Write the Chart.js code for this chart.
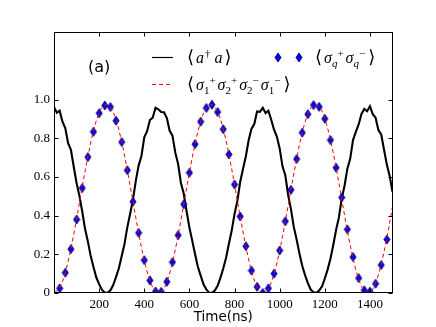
<!DOCTYPE html>
<html>
<head>
<meta charset="utf-8">
<script src="https://cdn.jsdelivr.net/npm/chart.js@4.4.1/dist/chart.umd.min.js"></script>
<style>
  body { margin: 0; background: #fff; }
  canvas { display: block; }
</style>
</head>
<body>
<canvas id="myChart" width="436" height="327"></canvas>
<script>
// dados (a)

// <a+ a> - curva preta (com ruido)
const photonTime = [0, 12.5, 25, 37.5, 50, 62.5, 75, 87.5, 100, 112.5,
  125, 137.5, 150, 162.5, 175, 187.5, 200, 212.5, 225, 237.5,
  250, 262.5, 275, 287.5, 300, 312.5, 325, 337.5, 350, 362.5,
  375, 387.5, 400, 412.5, 425, 437.5, 450, 462.5, 475, 487.5,
  500, 512.5, 525, 537.5, 550, 562.5, 575, 587.5, 600, 612.5,
  625, 637.5, 650, 662.5, 675, 687.5, 700, 712.5, 725, 737.5,
  750, 762.5, 775, 787.5, 800, 812.5, 825, 837.5, 850, 862.5,
  875, 887.5, 900, 912.5, 925, 937.5, 950, 962.5, 975, 987.5,
  1000, 1012.5, 1025, 1037.5, 1050, 1062.5, 1075, 1087.5, 1100, 1112.5,
  1125, 1137.5, 1150, 1162.5, 1175, 1187.5, 1200, 1212.5, 1225, 1237.5,
  1250, 1262.5, 1275, 1287.5, 1300, 1312.5, 1325, 1337.5, 1350, 1362.5,
  1375, 1387.5, 1400, 1412.5, 1425, 1437.5, 1450, 1462.5, 1475, 1487.5,
  1500];
const photonPop = [0.962, 0.933, 0.943, 0.886, 0.853, 0.775, 0.741, 0.653, 0.569, 0.503,
  0.423, 0.332, 0.267, 0.193, 0.135, 0.080, 0.046, 0.016, 0.002, 0.001,
  0.014, 0.041, 0.083, 0.128, 0.191, 0.254, 0.341, 0.410, 0.485, 0.580,
  0.659, 0.709, 0.805, 0.837, 0.895, 0.907, 0.958, 0.950, 0.936, 0.935,
  0.905, 0.839, 0.814, 0.726, 0.667, 0.569, 0.513, 0.423, 0.339, 0.271,
  0.202, 0.136, 0.090, 0.045, 0.019, 0.002, 0.001, 0.013, 0.037, 0.078,
  0.127, 0.182, 0.255, 0.323, 0.409, 0.476, 0.574, 0.641, 0.706, 0.790,
  0.849, 0.874, 0.939, 0.937, 0.958, 0.931, 0.943, 0.896, 0.845, 0.809,
  0.748, 0.655, 0.609, 0.507, 0.434, 0.342, 0.278, 0.205, 0.141, 0.092,
  0.051, 0.018, 0.004, 0.001, 0.013, 0.033, 0.075, 0.121, 0.177, 0.248,
  0.326, 0.391, 0.489, 0.555, 0.643, 0.694, 0.791, 0.833, 0.872, 0.926,
  0.952, 0.940, 0.966, 0.925, 0.907, 0.843, 0.820, 0.741, 0.663, 0.605,
  0.523];

// <s1+ s2+ s2- s1-> - tracejado vermelho
const pairTime = [0, 25, 50, 75, 100, 125, 150, 175, 200, 225,
  250, 275, 300, 325, 350, 375, 400, 425, 450, 475,
  500, 525, 550, 575, 600, 625, 650, 675, 700, 725,
  750, 775, 800, 825, 850, 875, 900, 925, 950, 975,
  1000, 1025, 1050, 1075, 1100, 1125, 1150, 1175, 1200, 1225,
  1250, 1275, 1300, 1325, 1350, 1375, 1400, 1425, 1450, 1475,
  1500];
const pairPop = [0, 0.028, 0.108, 0.231, 0.383, 0.548, 0.705, 0.838, 0.931, 0.973,
  0.960, 0.894, 0.781, 0.635, 0.472, 0.311, 0.170, 0.065, 0.008, 0.006,
  0.058, 0.160, 0.299, 0.459, 0.622, 0.770, 0.886, 0.957, 0.974, 0.936,
  0.847, 0.717, 0.561, 0.396, 0.242, 0.116, 0.032, 0.000, 0.024, 0.100,
  0.220, 0.371, 0.534, 0.693, 0.829, 0.925, 0.972, 0.963, 0.901, 0.791,
  0.648, 0.485, 0.323, 0.180, 0.072, 0.011, 0.004, 0.052, 0.150, 0.286,
  0.445];

// <sq+ sq-> - losangos azuis
const qubitTime = [25, 50, 75, 100, 125, 150, 175, 200, 225,
  250, 275, 300, 325, 350, 375, 400, 425, 450, 475,
  500, 525, 550, 575, 600, 625, 650, 675, 700, 725,
  750, 775, 800, 825, 850, 875, 900, 925, 950, 975,
  1000, 1025, 1050, 1075, 1100, 1125, 1150, 1175, 1200, 1225,
  1250, 1275, 1300, 1325, 1350, 1375, 1400, 1425, 1450, 1475];
const qubitPop = [0.024, 0.105, 0.227, 0.380, 0.543, 0.703, 0.834, 0.930, 0.970,
  0.962, 0.891, 0.781, 0.635, 0.472, 0.311, 0.170, 0.065, 0.008, 0.006,
  0.058, 0.160, 0.299, 0.459, 0.622, 0.770, 0.886, 0.957, 0.974, 0.936,
  0.847, 0.717, 0.561, 0.396, 0.242, 0.116, 0.032, 0.000, 0.024, 0.100,
  0.220, 0.371, 0.534, 0.693, 0.829, 0.925, 0.972, 0.963, 0.901, 0.791,
  0.648, 0.494, 0.329, 0.186, 0.077, 0.014, 0.007, 0.048, 0.145, 0.277];

const xTicks = [200, 400, 600, 800, 1000, 1200, 1400];
const yTicks = [0, 0.2, 0.4, 0.6, 0.8, 1.0];

// losango fino (marcador 'd')
const diamond = document.createElement('canvas');
diamond.width = 8;
diamond.height = 11;
const dctx = diamond.getContext('2d');
dctx.beginPath();
dctx.moveTo(4, 1);
dctx.lineTo(7, 5.5);
dctx.lineTo(4, 10);
dctx.lineTo(1, 5.5);
dctx.closePath();
dctx.fillStyle = '#0000ff';
dctx.fill();
dctx.strokeStyle = '#000060';
dctx.lineWidth = 0.9;
dctx.stroke();

function pts(xs, ys) {
    return xs.map((t, i) => ({ x: t, y: ys[i] }));
}

function drawMath(ctx, x, y, parts) {
    parts.forEach(p => {
        ctx.font = p.f;
        ctx.fillText(p.t, x, y + (p.dy || 0));
        x += ctx.measureText(p.t).width + (p.gap || 0);
    });
}

const fBr = '18px "DejaVu Serif"';
const fIt = 'italic 16px "Liberation Serif"';
const fSm = '11px "Liberation Serif"';
const fSmIt = 'italic 11px "Liberation Serif"';

// moldura e ticks para dentro, estilo matplotlib
const moldura = {
    id: 'moldura',
    afterDatasetsDraw(chart) {
        const { ctx, chartArea: a, scales } = chart;
        const L = Math.round(a.left) + 0.5, R = Math.round(a.right) - 0.5;
        const T = Math.round(a.top) + 0.5, B = Math.round(a.bottom) - 0.5;
        ctx.save();
        ctx.strokeStyle = '#000';
        ctx.lineWidth = 1;
        ctx.strokeRect(L, T, R - L, B - T);
        ctx.beginPath();
        xTicks.forEach(v => {
            const px = Math.round(scales.x.getPixelForValue(v)) + 0.5;
            ctx.moveTo(px, B); ctx.lineTo(px, B - 4);
            ctx.moveTo(px, T); ctx.lineTo(px, T + 4);
        });
        yTicks.forEach(v => {
            const py = Math.round(scales.y.getPixelForValue(v)) + 0.5;
            ctx.moveTo(L, py); ctx.lineTo(L + 4, py);
            ctx.moveTo(R, py); ctx.lineTo(R - 4, py);
        });
        ctx.stroke();
        ctx.restore();
    },
    afterDraw(chart) {
        const ctx = chart.ctx;
        ctx.save();
        ctx.fillStyle = '#000';
        // (a)
        ctx.font = '16px "DejaVu Sans"';
        ctx.textBaseline = 'middle';
        ctx.fillText('(a)', 88, 67.5);
        ctx.textBaseline = 'alphabetic';

        // legenda
        ctx.strokeStyle = '#000';
        ctx.lineWidth = 1.2;
        ctx.beginPath();
        ctx.moveTo(152, 57.5); ctx.lineTo(173, 57.5);
        ctx.stroke();
        ctx.strokeStyle = '#ff0000';
        ctx.lineWidth = 1;
        ctx.setLineDash([4, 3]);
        ctx.beginPath();
        ctx.moveTo(152, 84.5); ctx.lineTo(173, 84.5);
        ctx.stroke();
        ctx.setLineDash([]);
        ctx.drawImage(diamond, 278 - 4, 57.5 - 5.5);
        ctx.drawImage(diamond, 299 - 4, 57.5 - 5.5);

        drawMath(ctx, 187, 63, [
            { t: '⟨', f: fBr, gap: 2 }, { t: 'a', f: fIt, gap: 1 }, { t: '†', f: fSm, dy: -6, gap: 4 },
            { t: 'a', f: fIt, gap: 2 }, { t: '⟩', f: fBr }
        ]);
        drawMath(ctx, 315, 63, [
            { t: '⟨', f: fBr, gap: 2 },
            { t: 'σ', f: fIt }, { t: 'q', f: fSmIt, dy: 4 }, { t: '+', f: fSm, dy: -6, gap: 2 },
            { t: 'σ', f: fIt }, { t: 'q', f: fSmIt, dy: 4 }, { t: '−', f: fSm, dy: -6, gap: 3 },
            { t: '⟩', f: fBr }
        ]);
        drawMath(ctx, 187, 90, [
            { t: '⟨', f: fBr, gap: 2 },
            { t: 'σ', f: fIt }, { t: '1', f: fSm, dy: 4 }, { t: '+', f: fSm, dy: -6, gap: 2 },
            { t: 'σ', f: fIt }, { t: '2', f: fSm, dy: 4 }, { t: '+', f: fSm, dy: -6, gap: 2 },
            { t: 'σ', f: fIt }, { t: '2', f: fSm, dy: 4 }, { t: '−', f: fSm, dy: -6, gap: 2 },
            { t: 'σ', f: fIt }, { t: '1', f: fSm, dy: 4 }, { t: '−', f: fSm, dy: -6, gap: 3 },
            { t: '⟩', f: fBr }
        ]);
        ctx.restore();
    }
};

const ctx1 = document.getElementById('myChart');

new Chart(ctx1, {
    type: 'line',
    data: {
        datasets: [{
            label: '⟨σ1+σ2+σ2−σ1−⟩',
            data: pts(pairTime, pairPop),
            borderColor: '#ff0000',
            borderWidth: 1,
            borderDash: [4, 3],
            pointRadius: 0,
            tension: 0.4,
            fill: false
        }, {
            label: '⟨σq+σq−⟩',
            data: pts(qubitTime, qubitPop),
            showLine: false,
            pointStyle: diamond,
            pointRadius: 4,
            borderWidth: 0
        }, {
            label: '⟨a†a⟩',
            data: pts(photonTime, photonPop),
            borderColor: '#000',
            borderWidth: 2.1,
            pointRadius: 0,
            tension: 0,
            fill: false
        }]
    },
    options: {
        responsive: false,
        animation: false,
        devicePixelRatio: 1,
        events: [],
        layout: { padding: { top: 32, right: 43.5, left: 0, bottom: 0 } },
        plugins: {
            legend: { display: false },
            tooltip: { enabled: false }
        },
        scales: {
            x: {
                type: 'linear',
                min: 0,
                max: 1500,
                grid: { display: false, drawTicks: false },
                border: { display: false },
                afterBuildTicks: s => { s.ticks = xTicks.map(v => ({ value: v })); },
                afterFit: s => { s.height = 34; },
                ticks: {
                    autoSkip: false,
                    maxRotation: 0,
                    padding: 4,
                    color: '#000',
                    font: { family: 'Liberation Serif', size: 13 },
                    callback: v => String(v)
                },
                title: {
                    display: true,
                    text: 'Time(ns)',
                    color: '#000',
                    font: { family: 'DejaVu Sans', size: 13.5 },
                    padding: { top: 0, bottom: 1 }
                }
            },
            y: {
                min: 0,
                max: 1.35,
                grid: { display: false, drawTicks: false },
                border: { display: false },
                afterBuildTicks: s => { s.ticks = yTicks.map(v => ({ value: v })); },
                afterFit: s => { s.width = 54; },
                ticks: {
                    padding: 4,
                    color: '#000',
                    font: { family: 'Liberation Serif', size: 13 },
                    callback: v => v === 0 ? '0' : v.toFixed(1)
                }
            }
        }
    },
    plugins: [moldura]
});
</script>
</body>
</html>
